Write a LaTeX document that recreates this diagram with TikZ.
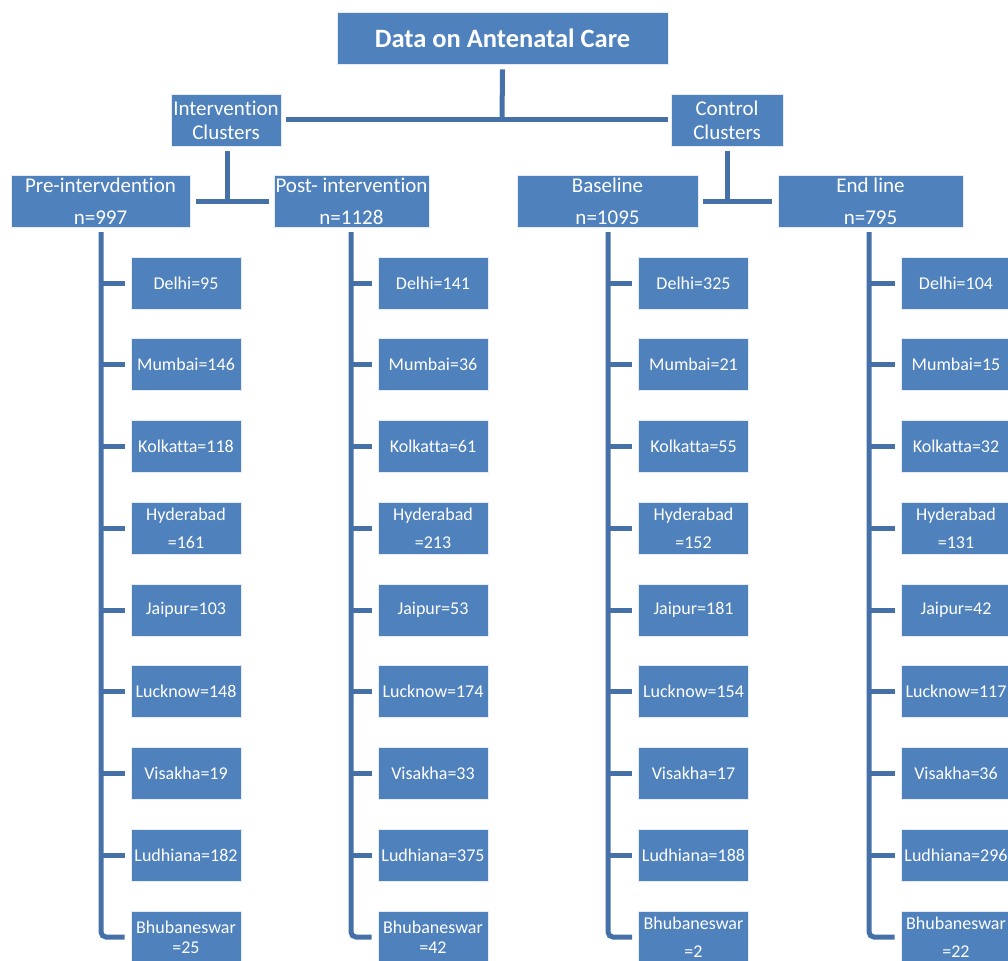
\documentclass[tikz,border=0pt]{standalone}
\usepackage{fontspec}
\setmainfont[Ligatures=NoCommon]{Carlito}
\definecolor{boxblue}{HTML}{4F81BD}
\definecolor{lineblue}{HTML}{4571A8}
\begin{document}
\begin{tikzpicture}[x=1pt,y=-1pt,
  box/.style={fill=boxblue, draw=white!85!boxblue, line width=0.6pt, text=white, inner sep=0pt, align=center, minimum height=52pt},
  titlebox/.style={box, minimum width=331pt, font=\fontsize{26.5}{30}\selectfont\bfseries},
  midbox/.style={box, font=\fontsize{21}{24}\selectfont},
  grpbox/.style={box, font=\fontsize{21}{32}\selectfont},
  kid/.style={box, minimum width=110pt, font=\fontsize{18}{28}\selectfont},
  conn/.style={draw=lineblue, line width=5pt}]
\useasboundingbox (0,0) rectangle (1008,960);
% top levels
\node[titlebox] (title) at (502.5,38) {Data on Antenatal Care};
\node[midbox, minimum width=110pt] (int) at (226,120) {Intervention\\Clusters};
\node[midbox, minimum width=112pt] (ctrl) at (727,120) {Control\\Clusters};
\node[grpbox, minimum width=179pt] (pre) at (100.5,201) {Pre-intervdention\\n=997};
\node[grpbox, minimum width=155pt] (post) at (351.5,201) {Post- intervention\\n=1128};
\node[grpbox, minimum width=181pt] (base) at (607.5,201) {Baseline\\n=1095};
\node[grpbox, minimum width=185pt] (endl) at (870.5,201) {End line\\n=795};
% connectors top
\coordinate (tj) at (502,120);
\draw[conn] ([yshift=-5pt]title.south) -- (tj);
\draw[conn] ([xshift=5pt]int.east) -- ([xshift=-3pt]ctrl.west);
\coordinate (ij) at (227,201);
\coordinate (cj) at (727,201);
\draw[conn] ([yshift=-5pt]int.south -| ij) -- (ij);
\draw[conn] ([xshift=6pt]pre.east) -- ([xshift=-5pt]post.west);
\draw[conn] ([yshift=-5pt]ctrl.south -| cj) -- (cj);
\draw[conn] ([xshift=5pt]base.east) -- ([xshift=-6pt]endl.west);
% children
\foreach \lab [count=\i] in {Delhi=95,Mumbai=146,Kolkatta=118,{Hyderabad\\=161},Jaipur=103,Lucknow=148,Visakha=19,Ludhiana=182,{Bhubaneswar\\[-8pt]=25}}{
  \pgfmathsetmacro{\yy}{283+(\i-1)*81.75}
  \node[kid] (p\i) at (186,\yy) {\lab};
}
\foreach \lab [count=\i] in {Delhi=141,Mumbai=36,Kolkatta=61,{Hyderabad\\=213},Jaipur=53,Lucknow=174,Visakha=33,Ludhiana=375,{Bhubaneswar\\[-8pt]=42}}{
  \pgfmathsetmacro{\yy}{283+(\i-1)*81.75}
  \node[kid] (q\i) at (433,\yy) {\lab};
}
\foreach \lab [count=\i] in {Delhi=325,Mumbai=21,Kolkatta=55,{Hyderabad\\=152},Jaipur=181,Lucknow=154,Visakha=17,Ludhiana=188,{Bhubaneswar\\=2}}{
  \pgfmathsetmacro{\yy}{283+(\i-1)*81.75}
  \node[kid] (b\i) at (693.5,\yy) {\lab};
}
\foreach \lab [count=\i] in {Delhi=104,Mumbai=15,Kolkatta=32,{Hyderabad\\=131},Jaipur=42,Lucknow=117,Visakha=36,Ludhiana=296,{Bhubaneswar\\=22}}{
  \pgfmathsetmacro{\yy}{283+(\i-1)*81.75}
  \node[kid] (e\i) at (956,\yy) {\lab};
}
% tree lines
\foreach \ch/\vx in {p/101,q/351,b/608,e/869}{
  \coordinate (\ch top) at (\vx,232);
  \draw[conn, rounded corners=5pt] (\ch top) |- ([xshift=-6pt]\ch9.west);
  \foreach \i in {1,...,8}{
    \draw[conn] (\ch top |- \ch\i.west) -- ([xshift=-6pt]\ch\i.west);
  }
}
\end{tikzpicture}
\end{document}
